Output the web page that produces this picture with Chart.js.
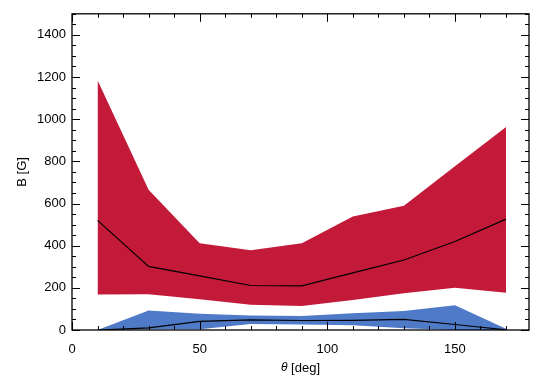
<!DOCTYPE html>
<html>
<head>
<meta charset="utf-8">
<script src="https://cdn.jsdelivr.net/npm/chart.js@4/dist/chart.umd.min.js"></script>
<style>
  html, body { margin: 0; padding: 0; background: #fff; }
  #wrap { width: 538px; height: 381px; }
</style>
</head>
<body>
<div id="wrap"><canvas id="chart"></canvas></div>
<script>
const theta = [10, 30, 50, 70, 90, 110, 130, 150, 170];
const redUpper = [1185, 665, 412, 378, 411, 538, 589, 777, 963];
const redLower = [168, 169, 146, 120, 114, 142, 174, 200, 177];
const redMedian = [520, 302, 257, 211, 209, 271, 332, 420, 526];
const blueUpper = [0, 92, 77, 69, 66, 80, 90, 118, 6];
const blueLower = [0, 4, 4, 28, 26, 23, 8, 0, 0];
const blueMedian = [0, 10, 41, 48, 45, 46, 50, 26, 1];

const xMajorTicks = [0, 50, 100, 150];
const yMajorTicks = [0, 200, 400, 600, 800, 1000, 1200, 1400];
const xMinorStep = 10;
const yMinorStep = 50;

const red = "#c41a3a";
const blue = "#4f7ac8";
const font = "'Liberation Sans', Arial, Helvetica, sans-serif";

function pts(arr) {
  return theta.map((t, i) => ({ x: t, y: arr[i] }));
}

// frame + inward ticks on all four sides, and the x title with an italic theta
const frameTicks = {
  id: "frameTicks",
  afterDraw(chart) {
    const { ctx, chartArea: a, scales } = chart;
    const xs = scales.x, ys = scales.y;
    ctx.save();
    ctx.strokeStyle = "#000";
    ctx.lineWidth = 1.3;
    ctx.strokeRect(a.left, a.top, a.right - a.left, a.bottom - a.top);
    ctx.lineWidth = 1;
    ctx.beginPath();
    for (let v = 0; v <= xs.max; v += xMinorStep) {
      const len = xMajorTicks.includes(v) ? 8 : 4;
      const px = Math.round(xs.getPixelForValue(v)) + 0.5;
      ctx.moveTo(px, a.bottom); ctx.lineTo(px, a.bottom - len);
      ctx.moveTo(px, a.top); ctx.lineTo(px, a.top + len);
    }
    for (let v = 0; v <= ys.max; v += yMinorStep) {
      const len = yMajorTicks.includes(v) ? 8 : 4;
      const py = Math.round(ys.getPixelForValue(v)) + 0.5;
      ctx.moveTo(a.left, py); ctx.lineTo(a.left + len, py);
      ctx.moveTo(a.right, py); ctx.lineTo(a.right - len, py);
    }
    ctx.stroke();

    const sym = "θ", rest = " [deg]";
    const symFont = "italic 12px " + font;
    const restFont = "13px " + font;
    ctx.font = symFont;
    const w1 = ctx.measureText(sym).width;
    ctx.font = restFont;
    const w2 = ctx.measureText(rest).width;
    const x0 = (a.left + a.right) / 2 - (w1 + w2) / 2;
    const y0 = 368;
    ctx.fillStyle = "#000";
    ctx.textBaseline = "middle";
    ctx.textAlign = "left";
    ctx.font = symFont;
    ctx.fillText(sym, x0, y0);
    ctx.font = restFont;
    ctx.fillText(rest, x0 + w1, y0);
    ctx.restore();
  }
};

const config = {
  type: "line",
  data: {
    datasets: [
      { data: pts(redMedian), borderColor: "#000", borderWidth: 1.2, fill: false },
      { data: pts(blueMedian), borderColor: "#000", borderWidth: 1.2, fill: false },
      { data: pts(redLower), borderColor: "rgba(0,0,0,0)", borderWidth: 0, fill: false },
      { data: pts(redUpper), borderColor: "rgba(0,0,0,0)", borderWidth: 0, backgroundColor: red, fill: 2 },
      { data: pts(blueLower), borderColor: "rgba(0,0,0,0)", borderWidth: 0, fill: false },
      { data: pts(blueUpper), borderColor: "rgba(0,0,0,0)", borderWidth: 0, backgroundColor: blue, fill: 4 },
    ],
  },
  options: {
    responsive: true,
    maintainAspectRatio: false,
    animation: false,
    events: [],
    layout: { padding: { top: 5, right: 9, left: 0, bottom: 0 } },
    elements: { point: { radius: 0 }, line: { tension: 0 } },
    plugins: { legend: { display: false }, tooltip: { enabled: false } },
    scales: {
      x: {
        type: "linear",
        min: 0,
        max: 179,
        grid: { display: false, drawTicks: false },
        border: { display: false },
        afterBuildTicks: (s) => { s.ticks = xMajorTicks.map((v) => ({ value: v })); },
        afterFit: (s) => { s.height = 51; },
        ticks: {
          padding: 12,
          color: "#000",
          font: { family: font, size: 13 },
          callback: (v) => String(v),
        },
      },
      y: {
        min: 0,
        max: 1500,
        grid: { display: false, drawTicks: false },
        border: { display: false },
        afterBuildTicks: (s) => { s.ticks = yMajorTicks.map((v) => ({ value: v })); },
        afterFit: (s) => { s.width = 72; },
        ticks: {
          padding: 6,
          color: "#000",
          font: { family: font, size: 13 },
          callback: (v) => String(v),
        },
        title: {
          display: true,
          text: "B [G]",
          color: "#000",
          font: { family: font, size: 13 },
          padding: { top: 15, bottom: 0 },
        },
      },
    },
  },
  plugins: [frameTicks],
};

const displayChart = new Chart(document.getElementById("chart").getContext("2d"), config);
</script>
</body>
</html>
